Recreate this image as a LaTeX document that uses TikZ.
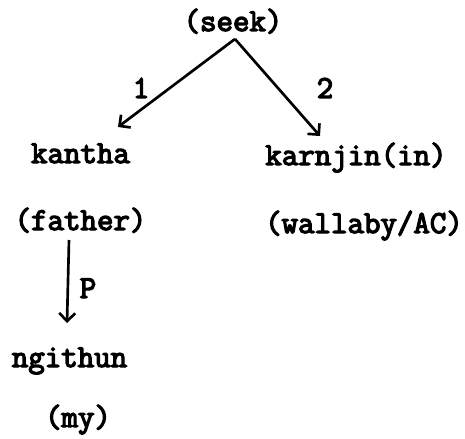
\documentclass[tikz,border=0pt]{standalone}
\usepackage{fontspec}
\newfontfamily\twfont{Latin Modern Mono}[FakeBold=4]
\usetikzlibrary{arrows.meta,calc}
\begin{document}
\begin{tikzpicture}[x=0.75pt,y=-0.75pt,
  lbl/.style={inner sep=0pt,anchor=base,font=\twfont\fontsize{24}{28}\selectfont},
  arr/.style={line width=2pt,-{Straight Barb[length=6pt,width=12pt,line width=2pt]}}]
\useasboundingbox (0,0) rectangle (465,439);
\node[lbl] (seek) at (233,31) {(seek)};
\node[lbl] (kantha) at (80.5,163) {kantha};
\node[lbl] (karnjin) at (356,165) {karnjin(in)};
\node[lbl] (father) at (80.5,230) {(father)};
\node[lbl] (wallaby) at (364,233) {(wallaby/AC)};
\node[lbl] (ngithun) at (69.5,367) {ngithun};
\node[lbl] (my) at (78,427) {(my)};
\node[lbl] (l1) at (141,98) {1};
\node[lbl] (l2) at (325,98) {2};
\node[lbl] (lP) at (88,298) {P};
\coordinate (apex) at (235,39);
\coordinate (tipL) at (118,127);
\coordinate (tipR) at (320,136);
\coordinate (ptop) at (69,240);
\coordinate (pbot) at (67,323);
\draw[arr] (apex) -- (tipL);
\draw[arr] (apex) -- (tipR);
\draw[arr] (ptop) -- (pbot);
\end{tikzpicture}
\end{document}
